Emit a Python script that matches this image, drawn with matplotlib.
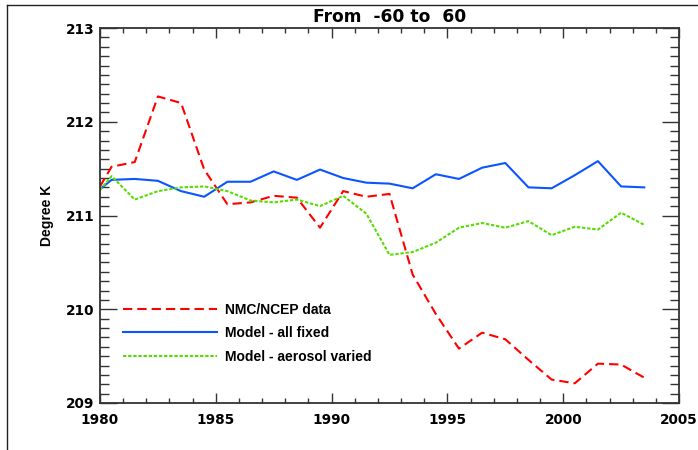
import numpy as np
import matplotlib
matplotlib.use("Agg")
import matplotlib.pyplot as plt
from matplotlib.lines import Line2D
from matplotlib.ticker import MultipleLocator

# 数据
years = np.array([1980.0, 1980.5, 1981.5, 1982.5, 1983.5, 1984.5, 1985.5, 1986.5,
                  1987.5, 1988.5, 1989.5, 1990.5, 1991.5, 1992.5, 1993.5, 1994.5,
                  1995.5, 1996.5, 1997.5, 1998.5, 1999.5, 2000.5, 2001.5, 2002.5,
                  2003.5])
ncep = np.array([211.31, 211.52, 211.57, 212.27, 212.20, 211.49, 211.12, 211.14,
                 211.21, 211.19, 210.87, 211.26, 211.20, 211.23, 210.37, 209.95,
                 209.58, 209.75, 209.68, 209.46, 209.25, 209.21, 209.42, 209.41,
                 209.27])
model_fixed = np.array([211.28, 211.38, 211.39, 211.37, 211.26, 211.20, 211.36, 211.36,
                        211.47, 211.38, 211.49, 211.40, 211.35, 211.34, 211.29, 211.44,
                        211.39, 211.51, 211.56, 211.30, 211.29, 211.43, 211.58, 211.31,
                        211.30])
model_aerosol = np.array([211.27, 211.42, 211.17, 211.26, 211.30, 211.31, 211.26, 211.16,
                          211.14, 211.17, 211.10, 211.21, 211.02, 210.58, 210.61, 210.71,
                          210.87, 210.92, 210.87, 210.94, 210.79, 210.88, 210.85, 211.03,
                          210.90])
labels = ["NMC/NCEP data", "Model - all fixed", "Model - aerosol varied"]
xticks = [1980, 1985, 1990, 1995, 2000, 2005]
yticks = [209, 210, 211, 212, 213]

plt.rcParams["lines.scale_dashes"] = False

fig = plt.figure(figsize=(6.98, 4.5), dpi=100)
ax = fig.add_axes([100 / 698, 47 / 450, 579 / 698, 375 / 450])

ax.plot(years, ncep, color="#ff0000", lw=1.5, dashes=(6.7, 3.6), label=labels[0])
ax.plot(years, model_fixed, color="#0a55ff", lw=1.5, label=labels[1])
ax.plot(years, model_aerosol, color="#55dd00", lw=1.5, dashes=(2.4, 1.3), label=labels[2])

ax.set_xlim(1980, 2005)
ax.set_ylim(209, 213)
ax.set_xticks(xticks)
ax.set_yticks(yticks)
ax.xaxis.set_minor_locator(MultipleLocator(1))
ax.yaxis.set_minor_locator(MultipleLocator(0.1))

ax.tick_params(axis="both", which="both", direction="in", top=True, right=True,
               color="#333333", width=1.0)
ax.tick_params(axis="x", which="major", length=7.5, pad=7)
ax.tick_params(axis="x", which="minor", length=3.8)
ax.tick_params(axis="y", which="major", length=12, pad=4)
ax.tick_params(axis="y", which="minor", length=6.5)
for lab in ax.get_xticklabels() + ax.get_yticklabels():
    lab.set_fontfamily("DejaVu Sans")
    lab.set_fontweight("bold")
    lab.set_fontsize(9.8)
for sp in ax.spines.values():
    sp.set_color("#333333")
    sp.set_linewidth(1.3)

ax.set_ylabel("Degree K", fontfamily="Liberation Sans", fontweight="bold", fontsize=10)
ax.yaxis.set_label_coords(-0.080, 0.5)

fig.text(389.5 / 698, 1 - 21.7 / 450, "From  -60 to  60", ha="center", va="baseline",
         fontfamily="DejaVu Sans", fontweight="bold", fontsize=12.3)

leg = ax.legend(loc="center left", bbox_to_anchor=(23 / 579, (403 - 333.3) / 375),
                frameon=False, borderpad=0, borderaxespad=0, handlelength=6.77,
                handletextpad=0.58, labelspacing=0.68,
                prop={"family": "Liberation Sans", "weight": "bold", "size": 10})

# 外框（上、左）
fig.add_artist(Line2D([7 / 698, 1.0], [1 - 5 / 450, 1 - 5 / 450], color="#222222", lw=1.0))
fig.add_artist(Line2D([7 / 698, 7 / 698], [0.0, 1 - 5 / 450], color="#222222", lw=1.0))

fig.savefig("out.png", dpi=100, facecolor="white")
plt.close(fig)
